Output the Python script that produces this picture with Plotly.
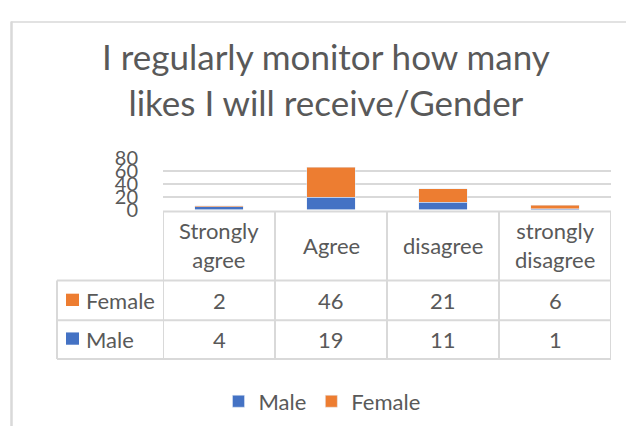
import plotly.graph_objects as go

# Survey responses by gender
categories = ["Strongly agree", "Agree", "disagree", "strongly disagree"]
header_labels = ["Strongly<br>agree", "Agree", "disagree", "strongly<br>disagree"]
male = [4, 19, 11, 1]
female = [2, 46, 21, 6]
y_ticks = [0, 20, 40, 60, 80]

W, H = 626, 437
BLUE = "#4472C4"
ORANGE = "#ED7D31"
GRID = "#D9D9D9"
TEXT = "#595959"
FONT = "Lato"


def px(x):
    return x / W


def py(y):
    return 1 - y / H


def hline(x0, x1, y, width=2):
    return dict(type="line", xref="paper", yref="paper",
                x0=px(x0), x1=px(x1), y0=py(y), y1=py(y),
                line=dict(color=GRID, width=width))


def vline_paper(x, y0, y1, width=2):
    return dict(type="line", xref="paper", yref="paper",
                x0=px(x), x1=px(x), y0=py(y0), y1=py(y1),
                line=dict(color=GRID, width=width))


fig = go.Figure()
fig.add_trace(go.Bar(x=categories, y=male, name="Male", marker_color=BLUE, width=0.43))
fig.add_trace(go.Bar(x=categories, y=female, name="Female", marker_color=ORANGE, width=0.43))

shapes = []
annotations = []

# outer chart frame (top and left edges)
shapes.append(hline(11, 626, 9.5, width=1.5))
shapes.append(vline_paper(11.5, 9, 437, width=2.5))

# data table grid
shapes.append(hline(163, 611, 210))
for yy in [283, 325, 366]:
    shapes.append(hline(57, 611, yy))
shapes.append(vline_paper(57, 283, 366))
for k in range(len(categories) + 1):
    shapes.append(dict(type="line", xref="x", yref="paper",
                       x0=k - 0.5, x1=k - 0.5, y0=py(210), y1=py(366),
                       line=dict(color=GRID, width=2)))

# header row: category names
for cat, lab in zip(categories, header_labels):
    annotations.append(dict(x=cat, y=py(246), xref="x", yref="paper",
                            text=lab, showarrow=False, yanchor="middle",
                            font=dict(family=FONT, size=22, color=TEXT)))

# value rows with series keys
for row_y, vals, color, name in [(304, female, ORANGE, "Female"), (345, male, BLUE, "Male")]:
    shapes.append(dict(type="rect", xref="paper", yref="paper",
                       x0=px(66), x1=px(79), y0=py(row_y + 6), y1=py(row_y - 7),
                       fillcolor=color, line=dict(width=0)))
    annotations.append(dict(x=px(84), y=py(row_y), xref="paper", yref="paper",
                            text=name, showarrow=False, xanchor="left", yanchor="middle",
                            font=dict(family=FONT, size=22, color=TEXT)))
    for cat, v in zip(categories, vals):
        annotations.append(dict(x=cat, y=py(row_y), xref="x", yref="paper",
                                text=str(v), showarrow=False, yanchor="middle",
                                font=dict(family=FONT, size=22, color=TEXT)))

# title
annotations.append(dict(x=px(326), y=py(70), xref="paper", yref="paper",
                        text="I regularly monitor how many<br>likes I will receive/Gender",
                        showarrow=False, yanchor="middle",
                        font=dict(family=FONT, size=35, color=TEXT)))

fig.update_layout(
    width=W, height=H,
    margin=dict(l=0, r=0, t=0, b=0),
    paper_bgcolor="white", plot_bgcolor="white",
    barmode="stack",
    showlegend=True,
    legend=dict(orientation="h", x=px(322), xanchor="center", y=py(411), yanchor="middle",
                font=dict(family=FONT, size=22, color=TEXT), traceorder="normal",
                itemwidth=30),
    xaxis=dict(domain=[px(163), px(611)], showticklabels=False, showgrid=False,
               zeroline=False, range=[-0.5, 3.5]),
    yaxis=dict(domain=[py(208), py(153)], range=[0, 80], tickvals=y_ticks,
               showgrid=True, gridcolor=GRID, gridwidth=1.5, zeroline=False,
               tickfont=dict(family=FONT, size=20, color=TEXT),
               ticklabelstandoff=24),
    shapes=shapes,
    annotations=annotations,
)

fig.write_html("out.html")
